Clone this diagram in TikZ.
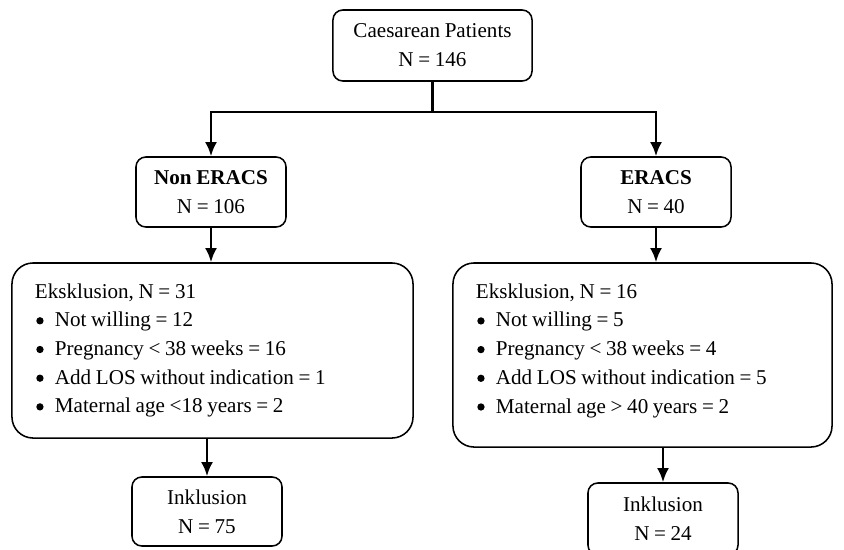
\documentclass[tikz,border=0pt]{standalone}
\usepackage{fontspec}
\setmainfont{Liberation Serif}
\usetikzlibrary{arrows,arrows.meta,positioning,calc}
\tikzstyle{stage}=[draw,line width=1.1pt,rounded corners=7pt,align=center,inner sep=0pt,
  font=\fontsize{15}{20.5}\selectfont,execute at begin node={\spaceskip=0.22em\relax}]
\tikzstyle{criteria}=[stage,rounded corners=15pt,align=left,inner xsep=0.575cm,
  font=\fontsize{15}{20.4}\selectfont]
\tikzstyle{flow}=[line width=1.8pt,-{Latex[length=10pt,width=8.5pt]}]
\newcommand{\crit}[1]{\makebox[0.25cm][c]{\tikz[baseline={(0pt,-4.3pt)}]\fill (0pt,0pt) circle (2.6pt);}\hspace{0.25cm}#1}

\begin{document}
\begin{tikzpicture}[x=0.025cm,y=-0.025cm]
\useasboundingbox (0,0) rectangle (844,549);
\clip (0,0) rectangle (844,549);
        \node[stage,minimum width=4.975cm,minimum height=1.775cm] (P) at (432.5,45.5)
          {Caesarean Patients\\N = 146};
        \node[stage,minimum width=3.75cm,minimum height=1.75cm] (N) at (211,192)
          {\textbf{Non ERACS}\\N = 106};
        \node[stage,minimum width=3.75cm,minimum height=1.75cm] (E) at (656,192)
          {\textbf{ERACS}\\N = 40};
        \node[criteria,text width=8.875cm,minimum height=4.375cm] (XN) at (212.5,350.5)
          {Eksklusion, N = 31\\
           \crit{Not willing = 12}\\
           \crit{Pregnancy < 38 weeks = 16}\\
           \crit{Add LOS without indication = 1}\\
           \crit{Maternal age <18 years = 2}};
        \node[criteria,text width=8.325cm,minimum height=4.6cm] (XE) at (642.5,355)
          {Eksklusion, N = 16\\
           \crit{Not willing = 5}\\
           \crit{Pregnancy < 38 weeks = 4}\\
           \crit{Add LOS without indication = 5}\\
           \crit{Maternal age > 40 years = 2}\vspace{0.22cm}};
        \node[stage,minimum width=3.75cm,minimum height=1.725cm] (IN) at (207,511.5)
          {Inklusion\\N = 75};
        \node[stage,minimum width=3.75cm,minimum height=1.8cm] (IE) at (663,519)
          {Inklusion\\N = 24};
        % split below the first box
        \coordinate (S) at (432.5,112);
        \draw [line width=1.8pt] (P.south) -- (S);
        \draw [flow] (S) -| (N.north);
        \draw [flow] (S) -| (E.north);
        \draw [flow] (N.south) -- (N.south |- XN.north);
        \draw [flow] (E.south) -- (E.south |- XE.north);
        \draw [flow] (IN.north |- XN.south) -- (IN.north);
        \draw [flow] (IE.north |- XE.south) -- (IE.north);
      \end{tikzpicture}
\end{document}
